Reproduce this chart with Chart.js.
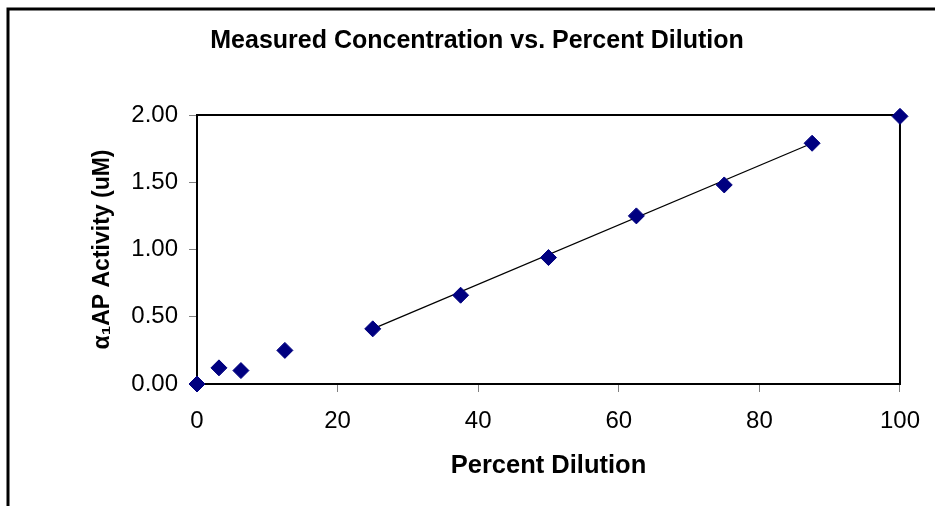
<!DOCTYPE html>
<html>
<head>
<meta charset="utf-8">
<script src="https://cdn.jsdelivr.net/npm/chart.js@4"></script>
<style>
html,body{margin:0;padding:0;background:#fff;}
#wrap{width:935px;height:506px;position:relative;}
</style>
</head>
<body>
<div id="wrap"><canvas id="c" width="935" height="506"></canvas></div>
<script>
// Data
const dilution = [0, 3.125, 6.25, 12.5, 25, 37.5, 50, 62.5, 75, 87.5, 100];
const activity = [0.00, 0.12, 0.10, 0.25, 0.41, 0.66, 0.94, 1.25, 1.48, 1.79, 1.99];
const trendX = [25, 87.5];
const trendY = [0.41, 1.79];
const xTicks = [0, 20, 40, 60, 80, 100];
const yTicks = [0.00, 0.50, 1.00, 1.50, 2.00];
const chartTitle = 'Measured Concentration vs. Percent Dilution';
const xTitle = 'Percent Dilution';
const yTitle = 'α\u2081AP Activity (uM)';

const FONT = "'Liberation Sans', Arial, sans-serif";

const framePlugin = {
  id: 'frame',
  beforeDatasetsDraw(chart) {
    const {ctx, chartArea: a} = chart;
    ctx.save();
    ctx.strokeStyle = '#000';
    ctx.lineWidth = 2;
    ctx.strokeRect(a.left, a.top, a.right - a.left, a.bottom - a.top);
    ctx.restore();
  },
  beforeDraw(chart) {
    const {ctx, width, height} = chart;
    ctx.save();
    ctx.fillStyle = '#fff';
    ctx.fillRect(0, 0, width, height);
    ctx.strokeStyle = '#000';
    ctx.lineWidth = 3;
    ctx.beginPath();
    ctx.moveTo(8, height + 2);
    ctx.lineTo(8, 9);
    ctx.lineTo(width + 2, 9);
    ctx.stroke();
    ctx.restore();
  }
};

new Chart(document.getElementById('c'), {
  type: 'scatter',
  data: {
    datasets: [
      {
        label: 'Measured',
        data: dilution.map((x, i) => ({x: x, y: activity[i]})),
        pointStyle: 'rectRot',
        pointRadius: 8,
        pointHoverRadius: 8,
        backgroundColor: '#000080',
        borderColor: '#000080',
        borderWidth: 1,
        showLine: false,
        clip: false,
        order: 0
      },
      {
        label: 'Trend',
        data: trendX.map((x, i) => ({x: x, y: trendY[i]})),
        showLine: true,
        borderColor: '#000',
        borderWidth: 1.3,
        pointRadius: 0,
        fill: false,
        order: 1
      }
    ]
  },
  options: {
    responsive: false,
    animation: false,
    layout: {padding: {left: 53, right: 34, top: 0, bottom: 0}},
    plugins: {
      legend: {display: false},
      tooltip: {enabled: false},
      title: {
        display: true,
        text: chartTitle,
        color: '#000',
        font: {family: FONT, size: 25, weight: 'bold'},
        padding: {top: 26, bottom: 59}
      }
    },
    scales: {
      x: {
        type: 'linear',
        min: 0, max: 100,
        afterBuildTicks(scale) { scale.ticks = xTicks.map(v => ({value: v})); },
        afterFit(scale) { scale.height = 122; },
        ticks: {
          color: '#000',
          font: {family: FONT, size: 24},
          padding: 15,
          maxRotation: 0,
          callback: v => String(v)
        },
        grid: {drawOnChartArea: false, tickColor: '#808080', tickLength: 8, tickWidth: 1},
        border: {display: true, color: '#000', width: 2},
        title: {
          display: true,
          text: xTitle,
          color: '#000',
          font: {family: FONT, size: 25.5, weight: 'bold'},
          padding: {top: 0, bottom: 25}
        }
      },
      y: {
        type: 'linear',
        min: 0, max: 2,
        afterBuildTicks(scale) { scale.ticks = yTicks.map(v => ({value: v})); },
        afterFit(scale) { scale.width = 144; },
        ticks: {
          color: '#000',
          font: {family: FONT, size: 24},
          padding: 11,
          callback: v => Number(v).toFixed(2)
        },
        grid: {drawOnChartArea: false, tickColor: '#808080', tickLength: 8, tickWidth: 1},
        border: {display: true, color: '#000', width: 2},
        title: {
          display: true,
          text: yTitle,
          color: '#000',
          font: {family: FONT, size: 23, weight: 'bold'},
          padding: {top: 36, bottom: 0}
        }
      }
    }
  },
  plugins: [framePlugin]
});
</script>
</body>
</html>
